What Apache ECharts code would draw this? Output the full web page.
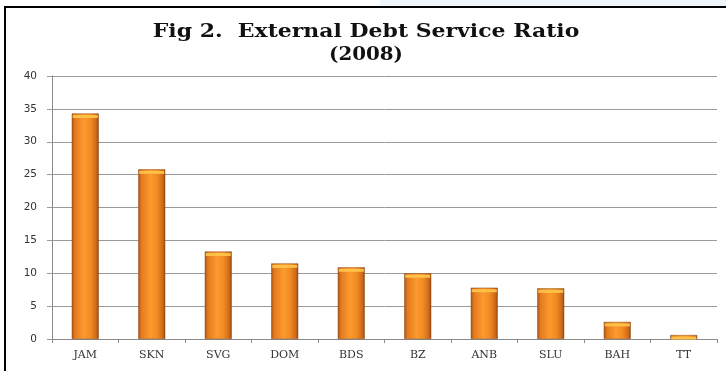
<!DOCTYPE html>
<html>
<head>
<meta charset="utf-8">
<script src="https://cdn.jsdelivr.net/npm/echarts@6/dist/echarts.min.js"></script>
<style>
html,body{margin:0;padding:0;background:#fff;}
#chart{width:726px;height:371px;}
</style>
</head>
<body>
<div id="chart"></div>
<script>
// External debt service ratio by country, 2008
const categories = ['JAM', 'SKN', 'SVG', 'DOM', 'BDS', 'BZ', 'ANB', 'SLU', 'BAH', 'TT'];
const ratios = [34.3, 25.8, 13.3, 11.5, 10.9, 10.0, 7.8, 7.7, 2.6, 0.6];
const yTicks = [0, 5, 10, 15, 20, 25, 30, 35, 40];
const titleLines = ['Fig 2.  External Debt Service Ratio', '(2008)'];

const chart = echarts.init(document.getElementById('chart'), null, { renderer: 'canvas' });

const barFill = new echarts.graphic.LinearGradient(0, 0, 1, 0, [
  { offset: 0, color: '#a85416' },
  { offset: 0.12, color: '#e57a1f' },
  { offset: 0.45, color: '#fb9a2e' },
  { offset: 0.7, color: '#f28b22' },
  { offset: 0.9, color: '#cf6b1b' },
  { offset: 1, color: '#95490f' }
]);

const titleFont = 'bold 18px "DejaVu Serif"';

chart.setOption({
  animation: false,
  backgroundColor: '#ffffff',
  graphic: [
    { type: 'rect', shape: { x: 380, y: 0, width: 346, height: 6 }, style: { fill: '#eef6fb' }, silent: true },
    { type: 'rect', shape: { x: 4, y: 6, width: 722, height: 2 }, style: { fill: '#000' }, silent: true },
    { type: 'rect', shape: { x: 4, y: 6, width: 2, height: 365 }, style: { fill: '#000' }, silent: true },
    {
      type: 'text', x: 366, y: 32, scaleX: 1.22, silent: true,
      style: { text: titleLines[0], font: titleFont, fill: '#111', align: 'center', verticalAlign: 'middle' }
    },
    {
      type: 'text', x: 366, y: 55, scaleX: 1.1, silent: true,
      style: { text: titleLines[1], font: titleFont, fill: '#111', align: 'center', verticalAlign: 'middle' }
    }
  ],
  grid: { left: 52, right: 9, top: 76, bottom: 32 },
  xAxis: {
    type: 'category',
    data: categories,
    axisLine: { show: true, lineStyle: { color: '#8a8a8a', width: 1 } },
    axisTick: { show: true, length: 4, lineStyle: { color: '#8a8a8a' } },
    axisLabel: {
      margin: 11,
      fontFamily: 'DejaVu Serif',
      fontSize: 11,
      color: '#333'
    }
  },
  yAxis: {
    type: 'value',
    min: yTicks[0],
    max: yTicks[yTicks.length - 1],
    interval: 5,
    axisLine: { show: true, lineStyle: { color: '#8a8a8a', width: 1 } },
    axisTick: { show: true, length: 5, lineStyle: { color: '#9a9a9a' } },
    splitLine: { show: true, lineStyle: { color: '#9a9a9a', width: 1 } },
    axisLabel: {
      margin: 15,
      fontFamily: 'DejaVu Sans',
      fontSize: 10.5,
      color: '#333'
    }
  },
  series: [
    {
      type: 'bar',
      data: ratios,
      barWidth: 27,
      itemStyle: {
        color: barFill,
        borderColor: '#8c4a14',
        borderWidth: 0.5
      },
      z: 2
    },
    {
      // highlight cap along the top of each bar
      type: 'pictorialBar',
      data: ratios,
      symbol: 'rect',
      symbolPosition: 'end',
      symbolSize: [25, 3],
      symbolOffset: [0, 1.5],
      itemStyle: { color: '#ffc64a', opacity: 0.9 },
      z: 3
    }
  ]
});
</script>
</body>
</html>
